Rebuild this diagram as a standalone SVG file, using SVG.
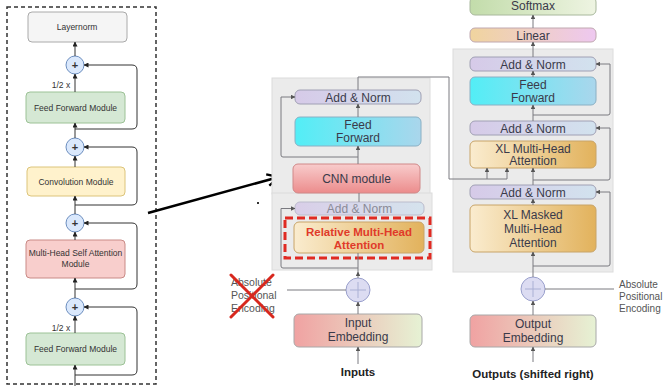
<svg xmlns="http://www.w3.org/2000/svg" width="665" height="391" viewBox="0 0 665 391">
  <style>
    text { font-family: "Liberation Sans", Arial, sans-serif; text-anchor: middle; fill: #333; }
    .sm { font-size: 8.5px; }
    .pl { font-size: 11px; font-weight: bold; fill: #333; }
    .md { font-size: 12px; fill: #3a3a4a; }
    .lbl { font-size: 10.5px; fill: #555; text-anchor: start; }
    .lblr { font-size: 10px; fill: #555; text-anchor: start; }
    .bold { font-size: 11.5px; font-weight: bold; fill: #222; }
    .red { font-size: 11.5px; font-weight: bold; fill: #e03a2a; }
    .wire { fill: none; stroke: #333; stroke-width: 1; }
    .gwire { fill: none; stroke: #7a7a80; stroke-width: 1; }
    .plus { fill: #dae8fc; stroke: #6c8ebf; stroke-width: 1; }
    .plus2 { fill: #dcdcf2; stroke: #9aa0cc; stroke-width: 1; }
    .box { stroke-width: 1; }
    .an { fill: url(#anG); stroke: #a0a0b4; }
    .region { fill: #ebebeb; stroke: #dcdcdc; }
  </style>
  <defs>
    <marker id="ah" viewBox="0 0 10 10" refX="9" refY="5" markerWidth="5" markerHeight="5" markerUnits="userSpaceOnUse" orient="auto">
      <path d="M0,0 L10,5 L0,10 z" fill="#222"/>
    </marker>
    <marker id="ahg" viewBox="0 0 10 10" refX="9" refY="5" markerWidth="4.5" markerHeight="4.5" markerUnits="userSpaceOnUse" orient="auto">
      <path d="M0,0 L10,5 L0,10 z" fill="#555"/>
    </marker>
    <marker id="big" viewBox="0 0 12 12" refX="11" refY="6" markerWidth="14" markerHeight="14" markerUnits="userSpaceOnUse" orient="auto">
      <path d="M1,1 L11,6 L1,11" fill="none" stroke="#000" stroke-width="2"/>
    </marker>
    <linearGradient id="anG" x1="0" y1="0" x2="1" y2="0">
      <stop offset="0" stop-color="#d6cae8"/><stop offset="1" stop-color="#d2e2ee"/>
    </linearGradient>
    <linearGradient id="ffG" x1="0" y1="0" x2="1" y2="0">
      <stop offset="0" stop-color="#52eef6"/><stop offset="1" stop-color="#aad6ec"/>
    </linearGradient>
    <linearGradient id="cnnG" x1="0" y1="0" x2="0" y2="1">
      <stop offset="0" stop-color="#f8cccc"/><stop offset="1" stop-color="#ec8c8c"/>
    </linearGradient>
    <linearGradient id="attG" x1="0" y1="0" x2="1" y2="0">
      <stop offset="0" stop-color="#faeccf"/><stop offset="1" stop-color="#e2b25c"/>
    </linearGradient>
    <linearGradient id="embG" x1="0" y1="0" x2="1" y2="0">
      <stop offset="0" stop-color="#f0a2a2"/><stop offset="1" stop-color="#e6f2d4"/>
    </linearGradient>
    <linearGradient id="smG" x1="0" y1="0" x2="1" y2="0">
      <stop offset="0" stop-color="#c2dcaa"/><stop offset="1" stop-color="#eef4e2"/>
    </linearGradient>
    <linearGradient id="linG" x1="0" y1="0" x2="1" y2="0">
      <stop offset="0" stop-color="#f0d49e"/><stop offset="1" stop-color="#eec8f0"/>
    </linearGradient>
  </defs>

  <!-- Conformer block (left) -->
  <rect x="7" y="7" width="149" height="377" fill="none" stroke="#333" stroke-width="1.5" stroke-dasharray="4,3"/>

  <g id="layernorm">
    <rect class="box" x="28" y="12" width="99" height="30" rx="4" fill="#f5f5f5" stroke="#aaa"/>
    <text class="sm" x="77" y="30">Layernorm</text>
  </g>
  <g id="ff-top">
    <rect class="box" x="26" y="92" width="99" height="31" rx="4" fill="#d5e8d4" stroke="#9cc296"/>
    <text class="sm" x="75.5" y="110.5">Feed Forward Module</text>
  </g>
  <g id="conv">
    <rect class="box" x="27" y="167" width="98" height="29" rx="4" fill="#fff2cc" stroke="#dcc47a"/>
    <text class="sm" x="76" y="184.5">Convolution Module</text>
  </g>
  <g id="mhsa">
    <rect class="box" x="26" y="240" width="99" height="38" rx="4" fill="#f8cecc" stroke="#c98a86"/>
    <text class="sm" x="75.5" y="256">Multi-Head Self Attention</text>
    <text class="sm" x="75.5" y="267">Module</text>
  </g>
  <g id="ff-bottom">
    <rect class="box" x="26" y="333" width="99" height="32" rx="4" fill="#d5e8d4" stroke="#9cc296"/>
    <text class="sm" x="75.5" y="352">Feed Forward Module</text>
  </g>
  <g id="sum1"><circle class="plus" cx="75" cy="65" r="9"/><text class="pl" x="75" y="69">+</text></g>
  <g id="sum2"><circle class="plus" cx="75" cy="147" r="9"/><text class="pl" x="75" y="151">+</text></g>
  <g id="sum3"><circle class="plus" cx="75" cy="223" r="9"/><text class="pl" x="75" y="227">+</text></g>
  <g id="sum4"><circle class="plus" cx="75" cy="307" r="9"/><text class="pl" x="75" y="311">+</text></g>
  <text class="sm" x="61" y="88">1/2 x</text>
  <text class="sm" x="61" y="331">1/2 x</text>

  <g id="conformer-connectors">
    <path class="wire" d="M75,386 V365" marker-end="url(#ah)"/>
    <path class="wire" d="M75,333 V316" marker-end="url(#ah)"/>
    <path class="wire" d="M75,298 V278" marker-end="url(#ah)"/>
    <path class="wire" d="M75,240 V232" marker-end="url(#ah)"/>
    <path class="wire" d="M75,214 V196" marker-end="url(#ah)"/>
    <path class="wire" d="M75,167 V156" marker-end="url(#ah)"/>
    <path class="wire" d="M75,138 V123" marker-end="url(#ah)"/>
    <path class="wire" d="M75,92 V74" marker-end="url(#ah)"/>
    <path class="wire" d="M75,56 V42" marker-end="url(#ah)"/>
    <path class="wire" d="M75,129 H132 Q137,129 137,124 V70 Q137,65 132,65 H84" marker-end="url(#ah)"/>
    <path class="wire" d="M75,205 H132 Q137,205 137,200 V152 Q137,147 132,147 H84" marker-end="url(#ah)"/>
    <path class="wire" d="M75,289 H132 Q137,289 137,284 V228 Q137,223 132,223 H84" marker-end="url(#ah)"/>
    <path class="wire" d="M75,375 H132 Q137,375 137,370 V312 Q137,307 132,307 H84" marker-end="url(#ah)"/>
  </g>

  <!-- pointer from the convolution module to the CNN block -->
  <path d="M148,213 L279,177" fill="none" stroke="#000" stroke-width="2.5" marker-end="url(#big)"/>
  <rect x="257" y="202" width="2" height="2" fill="#333"/>

  <!-- Encoder stack -->
  <rect class="region" x="272" y="78" width="158" height="116"/>
  <rect class="region" x="272" y="193" width="160" height="77"/>

  <g id="enc-addnorm-top">
    <rect class="box an" x="295" y="90" width="126" height="14" rx="5"/>
    <text class="md" x="358" y="101.5">Add &amp; Norm</text>
  </g>
  <g id="enc-ff">
    <rect class="box" x="295" y="117" width="126" height="29" rx="5" fill="url(#ffG)" stroke="#8ab0c4"/>
    <text class="md" x="358" y="129">Feed</text>
    <text class="md" x="358" y="142">Forward</text>
  </g>
  <g id="enc-cnn">
    <rect class="box" x="293" y="164" width="127" height="29" rx="5" fill="url(#cnnG)" stroke="#d08888"/>
    <text class="md" x="356.5" y="183">CNN module</text>
  </g>
  <g id="enc-addnorm-low">
    <rect class="box" x="295" y="202" width="129" height="13" rx="5" fill="url(#anG)" stroke="#b4b4c8" opacity="0.85"/>
    <text class="md" x="359.5" y="212.5" style="fill:#8a8a96">Add &amp; Norm</text>
  </g>
  <g id="enc-rel-attention">
    <rect class="box" x="294" y="222" width="130" height="31" rx="5" fill="url(#attG)" stroke="#c8a468"/>
    <text class="red" x="359" y="235.5">Relative Multi-Head</text>
    <text class="red" x="359" y="249">Attention</text>
    <rect x="285" y="218" width="145" height="40" fill="none" stroke="#e02a22" stroke-width="3" stroke-dasharray="8,4"/>
  </g>
  <g id="enc-pos-sum">
    <circle class="plus2" cx="358" cy="290" r="12"/>
    <path d="M350,290 H366 M358,282 V298" stroke="#aab0d4" stroke-width="1"/>
  </g>
  <g id="enc-abs-pos">
    <text class="lbl" x="231" y="286">Absolute</text>
    <text class="lbl" x="231" y="299">Positional</text>
    <text class="lbl" x="231" y="312">Encoding</text>
    <path d="M231,275 L273,317 M273,275 L231,317" stroke="#d8281e" stroke-width="3" stroke-linecap="round"/>
  </g>
  <g id="enc-input-emb">
    <rect class="box" x="294" y="314" width="128" height="33" rx="5" fill="url(#embG)" stroke="#a8a8a8"/>
    <text class="md" x="358" y="327">Input</text>
    <text class="md" x="358" y="341">Embedding</text>
  </g>
  <text class="bold" x="358" y="376">Inputs</text>

  <!-- Decoder stack -->
  <rect class="region" x="453" y="49" width="160" height="223"/>
  <g id="dec-softmax">
    <rect class="box" x="470" y="-3" width="126" height="18" rx="5" fill="url(#smG)" stroke="#a8b89c"/>
    <text class="md" x="533" y="10">Softmax</text>
  </g>
  <g id="dec-linear">
    <rect class="box" x="470" y="28" width="126" height="14" rx="5" fill="url(#linG)" stroke="#c0a8b0"/>
    <text class="md" x="533" y="39.5">Linear</text>
  </g>
  <g id="dec-addnorm-1">
    <rect class="box an" x="470" y="57" width="126" height="14" rx="5"/>
    <text class="md" x="533" y="68.5">Add &amp; Norm</text>
  </g>
  <g id="dec-ff">
    <rect class="box" x="470" y="77" width="126" height="28" rx="5" fill="url(#ffG)" stroke="#8ab0c4"/>
    <text class="md" x="533" y="88.5">Feed</text>
    <text class="md" x="533" y="101.5">Forward</text>
  </g>
  <g id="dec-addnorm-2">
    <rect class="box an" x="470" y="121" width="126" height="14" rx="5"/>
    <text class="md" x="533" y="132.5">Add &amp; Norm</text>
  </g>
  <g id="dec-xl-attention">
    <rect class="box" x="470" y="141" width="126" height="27" rx="5" fill="url(#attG)" stroke="#c8a468"/>
    <text class="md" x="533" y="152.5">XL Multi-Head</text>
    <text class="md" x="533" y="165">Attention</text>
  </g>
  <g id="dec-addnorm-3">
    <rect class="box an" x="470" y="185" width="126" height="14" rx="5"/>
    <text class="md" x="533" y="196.5">Add &amp; Norm</text>
  </g>
  <g id="dec-xl-masked">
    <rect class="box" x="470" y="205" width="126" height="47" rx="5" fill="url(#attG)" stroke="#c8a468"/>
    <text class="md" x="533" y="219">XL Masked</text>
    <text class="md" x="533" y="233">Multi-Head</text>
    <text class="md" x="533" y="247">Attention</text>
  </g>
  <g id="dec-pos-sum">
    <circle class="plus2" cx="533" cy="289" r="12"/>
    <path d="M525,289 H541 M533,281 V297" stroke="#aab0d4" stroke-width="1"/>
  </g>
  <g id="dec-abs-pos">
    <text class="lblr" x="619" y="288">Absolute</text>
    <text class="lblr" x="619" y="300">Positional</text>
    <text class="lblr" x="619" y="312">Encoding</text>
  </g>
  <g id="dec-output-emb">
    <rect class="box" x="470" y="315" width="126" height="32" rx="5" fill="url(#embG)" stroke="#a8a8a8"/>
    <text class="md" x="533" y="328">Output</text>
    <text class="md" x="533" y="342">Embedding</text>
  </g>
  <text class="bold" x="533" y="378">Outputs (shifted right)</text>

  <g id="transformer-connectors">
    <!-- encoder -->
    <path class="gwire" d="M358,364 V347" marker-end="url(#ahg)"/>
    <path class="gwire" d="M358,314 V302" marker-end="url(#ahg)"/>
    <path class="gwire" d="M358,278 V272" marker-end="url(#ahg)"/>
    <path class="gwire" d="M358,272 V253"/>
    <path class="gwire" d="M287,290 H346"/>
    <path class="gwire" d="M358,268 H283 Q281,268 281,266 V208.5 H295" marker-end="url(#ahg)"/>
    <path class="gwire" d="M359,193 V202"/>
    <path class="gwire" d="M358,164 V146" marker-end="url(#ahg)"/>
    <path class="gwire" d="M358,157 H283 Q281,157 281,155 V97 H295" marker-end="url(#ahg)"/>
    <path class="gwire" d="M358,117 V104" marker-end="url(#ahg)"/>
    <!-- encoder output into decoder cross-attention -->
    <path class="gwire" d="M358,90 V77 H449 V179 H507"/>
    <path class="gwire" d="M487,179 V168" marker-end="url(#ahg)"/>
    <path class="gwire" d="M507,179 V168" marker-end="url(#ahg)"/>
    <!-- decoder -->
    <path class="gwire" d="M533,362 V347" marker-end="url(#ahg)"/>
    <path class="gwire" d="M533,315 V301" marker-end="url(#ahg)"/>
    <path class="gwire" d="M545,289 H614"/>
    <path class="gwire" d="M533,277 V252" marker-end="url(#ahg)"/>
    <path class="gwire" d="M533,266 H608 Q610,266 610,264 V192 H596" marker-end="url(#ahg)"/>
    <path class="gwire" d="M533,205 V199" marker-end="url(#ahg)"/>
    <path class="gwire" d="M533,185 V168" marker-end="url(#ahg)"/>
    <path class="gwire" d="M533,180 H608 Q610,180 610,178 V128 H596" marker-end="url(#ahg)"/>
    <path class="gwire" d="M533,121 V105" marker-end="url(#ahg)"/>
    <path class="gwire" d="M533,115 H608 Q610,115 610,113 V64 H596" marker-end="url(#ahg)"/>
    <path class="gwire" d="M533,77 V71" marker-end="url(#ahg)"/>
    <path class="gwire" d="M533,57 V42" marker-end="url(#ahg)"/>
    <path class="gwire" d="M533,28 V15" marker-end="url(#ahg)"/>
  </g>
</svg>
